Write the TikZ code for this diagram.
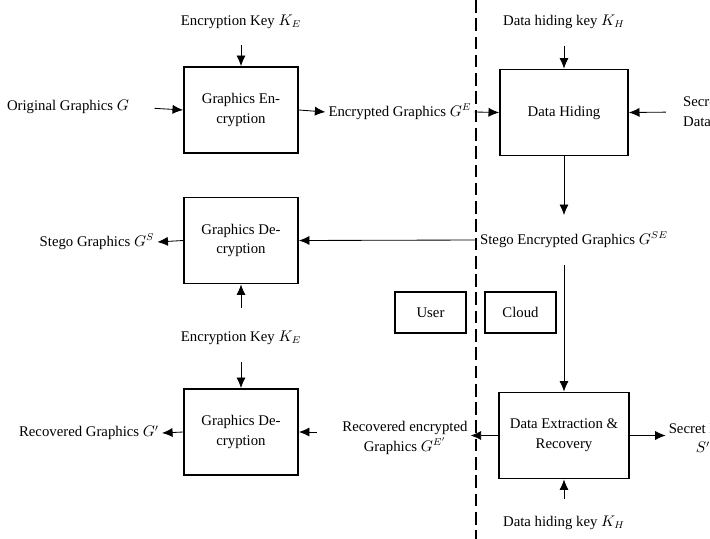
\documentclass[tikz,border=0pt]{standalone}
\usepackage{fontspec}
\setmainfont{Liberation Serif}
\usetikzlibrary{positioning,arrows.meta}

\begin{document}
\begin{tikzpicture}[x=0.025cm,y=-0.025cm,>={Latex[length=7.5pt,width=6.5pt]},font=\fontsize{10.5}{14}\selectfont]
\tikzstyle{box}=[draw,line width=1.3pt,align=center,minimum height=2.15cm]
\tikzstyle{proc}=[box,minimum width=2.85cm]
\tikzstyle{side}=[draw,line width=0.8pt,minimum width=1.775cm,minimum height=1.025cm]
\tikzstyle{lbl}=[align=center,inner sep=2pt]
\tikzstyle{arr}=[->,line width=0.6pt]
\useasboundingbox (0,0) rectangle (710,539);
% user / cloud border
\draw[line width=1.2pt,dash pattern=on 9pt off 4pt] (476,0) -- (476,539);
% processing boxes
\node[proc] (enc) at (241,110) {Graphics En-\\cryption};
\node[box,minimum width=3.2cm] (hide) at (564,112.5) {Data Hiding};
\node[proc] (dec1) at (241,240.5) {Graphics De-\\cryption};
\node[proc] (dec2) at (241,432) {Graphics De-\\cryption};
\node[box,minimum width=3.25cm] (ext) at (564,435.5) {Data Extraction \&\\Recovery};
\node[side] (user) at (430.5,312.5) {User};
\node[side] (cloud) at (520.5,312.5) {Cloud};
% labels
\node[lbl] (keyE1) at (241,22) {Encryption Key $K_E$};
\node[lbl] (orig) at (68,107) {Original Graphics $G$};
\node[lbl] (encG) at (400,112) {Encrypted Graphics $G^E$};
\node[lbl] (keyH1) at (564,22) {Data hiding key $K_H$};
\node[lbl,align=left,anchor=west] (secret) at (680,112) {Secret\\Data $S$};
\node[lbl] (stegoSE) at (574,240) {Stego Encrypted Graphics $G^{SE}$};
\node[lbl] (stegoG) at (97,242) {Stego Graphics $G^S$};
\node[lbl] (keyE2) at (241,338) {Encryption Key $K_E$};
\node[lbl] (recG) at (89,433) {Recovered Graphics $G'$};
\node[lbl] (recEnc) at (405,438) {Recovered encrypted\\Graphics $G^{E'}$};
\node[lbl] (secretOut) at (703,438) {Secret Data\\$S'$};
\node[lbl] (keyH2) at (564,523) {Data hiding key $K_H$};
% connectors
\draw[arr,shorten <=16\pgflinewidth] (keyE1) -- (enc);
\draw[arr,shorten <=16pt] (orig.east) -- (enc.west);
\draw[arr] (enc.east) -- (encG.west);
\draw[arr] (encG.east) -- (hide.west);
\draw[arr,shorten <=10pt] (keyH1) -- (hide);
\draw[arr,shorten <=10pt] (secret.west) -- (hide.east);
\draw[arr,shorten >=10pt] (hide.south) -- (hide.south|-stegoSE.north);
\draw[arr] (stegoSE.west) -- (dec1.east);
\draw[arr,shorten <=10pt] (ext.north|-stegoSE.south) -- (ext.north);
\draw[arr] (dec1.west) -- (stegoG.east);
\draw[arr,shorten <=14pt] (keyE2.north) -- (dec1.south);
\draw[arr,shorten <=10pt] (keyE2.south) -- (dec2.north);
\draw[arr] (dec2.west) -- (recG.east);
\draw[arr] (ext.west) -- (ext.west-|recEnc.east);
\draw[arr,shorten <=16pt] (recEnc.west|-dec2.east) -- (dec2.east);
\draw[arr] (ext.east) -- (ext.east-|secretOut.west);
\draw[arr,shorten <=10pt] (keyH2.north) -- (ext.south);
\end{tikzpicture}
\end{document}
